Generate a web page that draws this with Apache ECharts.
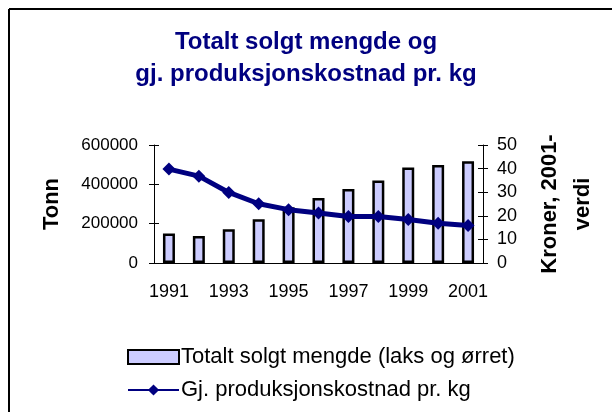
<!DOCTYPE html>
<html>
<head>
<meta charset="utf-8">
<script src="https://cdn.jsdelivr.net/npm/echarts@6/dist/echarts.min.js"></script>
<style>
  html, body { margin: 0; padding: 0; background: #fff; }
  #chart { width: 612px; height: 412px; }
</style>
</head>
<body>
<div id="chart"></div>
<script>
// data
const years = ['1991', '1992', '1993', '1994', '1995', '1996', '1997', '1998', '1999', '2000', '2001']
const tonnes = [150000, 137000, 172000, 222000, 284000, 330000, 376000, 420000, 485000, 498000, 518000]
const costPerKg = [39.8, 36.8, 29.9, 25.1, 22.6, 21.2, 19.7, 19.7, 18.4, 16.8, 15.9]
const seriesNames = ['Totalt solgt mengde (laks og ørret)', 'Gj. produksjonskostnad pr. kg']

const font = 'Arial, "Liberation Sans", sans-serif'
const navy = '#000080'

const chart = echarts.init(document.getElementById('chart'))

const plain = v => String(v)

const option = {
  animation: false,
  backgroundColor: '#fff',
  textStyle: { fontFamily: font, color: '#000' },
  title: {
    text: 'Totalt solgt mengde og\ngj. produksjonskostnad pr. kg',
    left: 'center',
    top: 21,
    textStyle: { color: navy, fontSize: 24, fontWeight: 'bold', lineHeight: 32, fontFamily: font }
  },
  // chart frame, only left and top edges are inside the picture
  graphic: [
    { type: 'line', shape: { x1: 9, y1: 9, x2: 612, y2: 9 }, style: { stroke: '#000', lineWidth: 2 }, silent: true },
    { type: 'line', shape: { x1: 9, y1: 9, x2: 9, y2: 412 }, style: { stroke: '#000', lineWidth: 2 }, silent: true }
  ],
  legend: {
    orient: 'vertical',
    left: 122,
    top: 341,
    itemGap: 11,
    itemWidth: 51,
    itemHeight: 14,
    textStyle: { fontSize: 22, color: '#000', fontFamily: font, padding: [0, 0, 0, -3] },
    data: [
      { name: seriesNames[0], icon: 'rect' },
      { name: seriesNames[1] }
    ]
  },
  grid: { left: 154, right: 129, top: 145, bottom: 149 },
  xAxis: [
    {
      type: 'category',
      data: years,
      position: 'bottom',
      axisLine: { lineStyle: { color: '#000', width: 1 } },
      axisTick: { interval: 0, length: 5, lineStyle: { color: '#000' } },
      axisLabel: { interval: 1, fontSize: 18, color: '#000', margin: 20 }
    },
    {
      type: 'category',
      data: years,
      position: 'bottom',
      axisLine: { show: false },
      axisTick: { interval: 0, inside: true, length: 5, lineStyle: { color: '#000' } },
      axisLabel: { show: false }
    }
  ],
  yAxis: [
    {
      type: 'value',
      min: 0, max: 600000, interval: 200000,
      position: 'left',
      name: 'Tonn',
      nameLocation: 'middle',
      nameGap: 91,
      nameTextStyle: { fontSize: 22, fontWeight: 'bold', color: '#000', fontFamily: font },
      splitLine: { show: false },
      axisLine: { show: true, lineStyle: { color: '#000', width: 1 } },
      axisTick: { show: true, length: 5, lineStyle: { color: '#000' } },
      axisLabel: { fontSize: 17, color: '#000', margin: 16, formatter: plain }
    },
    {
      type: 'value',
      min: 0, max: 50, interval: 10,
      position: 'right',
      name: 'Kroner, 2001-\nverdi',
      nameLocation: 'middle',
      nameGap: 50,
      nameTextStyle: { fontSize: 22, fontWeight: 'bold', color: '#000', lineHeight: 33, fontFamily: font },
      splitLine: { show: false },
      axisLine: { show: true, lineStyle: { color: '#000', width: 1 } },
      axisTick: { show: true, length: 5, lineStyle: { color: '#000' } },
      axisLabel: { fontSize: 18, color: '#000', margin: 14, formatter: plain }
    },
    {
      type: 'value',
      min: 0, max: 600000, interval: 200000,
      position: 'left',
      splitLine: { show: false },
      axisLine: { show: false },
      axisTick: { show: true, inside: true, length: 5, lineStyle: { color: '#000' } },
      axisLabel: { show: false }
    },
    {
      type: 'value',
      min: 0, max: 50, interval: 10,
      position: 'right',
      splitLine: { show: false },
      axisLine: { show: false },
      axisTick: { show: true, inside: true, length: 5, lineStyle: { color: '#000' } },
      axisLabel: { show: false }
    }
  ],
  series: [
    {
      name: seriesNames[0],
      type: 'bar',
      data: tonnes,
      xAxisIndex: 0,
      yAxisIndex: 0,
      barWidth: 12,
      itemStyle: { color: '#CCCCFF', borderColor: '#000', borderWidth: 2.5 }
    },
    {
      name: seriesNames[1],
      type: 'line',
      data: costPerKg,
      xAxisIndex: 0,
      yAxisIndex: 1,
      symbol: 'diamond',
      symbolSize: 13,
      lineStyle: { color: navy, width: 5 },
      itemStyle: { color: navy }
    }
  ]
}

chart.setOption(option)
</script>
</body>
</html>
